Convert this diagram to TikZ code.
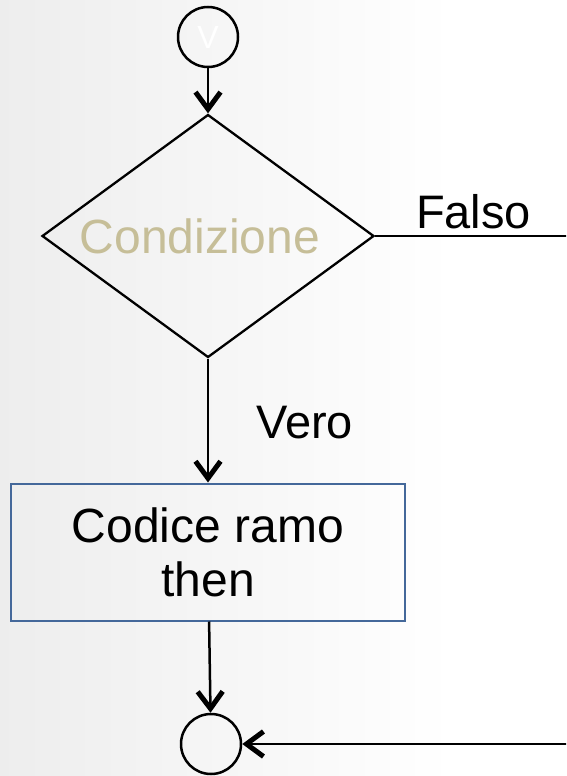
\documentclass[tikz,border=0pt]{standalone}
\usepackage{fontspec}
\setmainfont{Liberation Sans}
\usepackage{tikz}
\usetikzlibrary{shapes.geometric, arrows.meta}
\definecolor{condcolor}{RGB}{198, 190, 152}
\definecolor{boxcolor}{RGB}{68, 104, 154}
\definecolor{bgcolor}{RGB}{226, 226, 226}
\pgfdeclarehorizontalshading{slidebg}{100bp}{color(0bp)=(bgcolor); color(65bp)=(white); color(100bp)=(white)}

\begin{document}
\begin{tikzpicture}[
    x=1pt, y=-1pt,
    flow/.style={line width=2.5pt, -{Straight Barb[length=17pt, width=25pt, line width'=5pt]}},
    point/.style={draw, circle, line width=2.5pt, minimum size=60pt, inner sep=0pt},
    decision/.style={draw, diamond, line width=2.3pt, aspect=1.37, minimum width=332pt, minimum height=243pt, inner sep=0pt, text=condcolor, font=\fontsize{48}{54}\selectfont},
    process/.style={draw=boxcolor, line width=2pt, minimum width=394pt, minimum height=137pt, align=center, font=\fontsize{48}{54}\selectfont},
    lbl/.style={inner sep=0pt, font=\fontsize{47}{53}\selectfont}
]
    % Background
    \useasboundingbox (0,0) rectangle (566,776);
    \shade[shading=slidebg] (0,0) rectangle (566,776);
    \clip (0,0) rectangle (566,776);

    % Nodes
    \node[point, text=white, font=\fontsize{32}{32}\selectfont] (start) at (208,37) {V};
    \node[decision] (cond) at (208,236) {\hspace*{-16pt}Condizione};
    \node[process] (thenbox) at (208,552) {Codice ramo\\then};
    \node[point] (join) at (211,744) {};
    \coordinate (falsecorner) at (572,236);

    % Connectors
    \draw[flow] (start) -- (cond);
    \draw[flow] (cond) -- node[lbl, anchor=west, xshift=47pt, yshift=-2pt] {Vero} (thenbox);
    \draw[flow] (thenbox) -- (join);
    \draw[flow] (cond.east) -- node[lbl, anchor=base, yshift=8pt] {Falso} (falsecorner) |- (join);

\end{tikzpicture}
\end{document}
